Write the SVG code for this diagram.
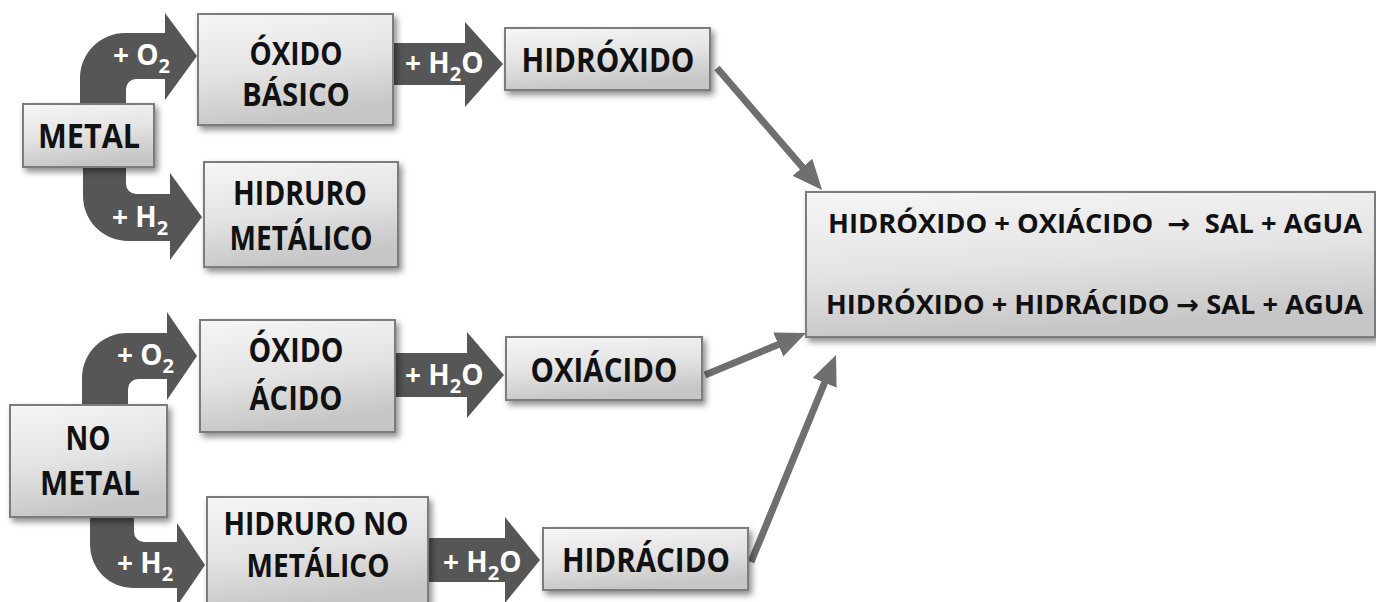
<svg xmlns="http://www.w3.org/2000/svg" width="1376" height="602" viewBox="0 0 1376 602">
<defs>
<linearGradient id="boxg" x1="0" y1="0" x2="0.25" y2="1">
<stop offset="0" stop-color="#f6f6f6"/>
<stop offset="0.55" stop-color="#e3e3e3"/>
<stop offset="1" stop-color="#c6c6c6"/>
</linearGradient>
<filter id="sh" x="-10%" y="-10%" width="130%" height="140%">
<feDropShadow dx="3" dy="4" stdDeviation="3" flood-color="#000" flood-opacity="0.45"/>
</filter>
<marker id="ah" markerUnits="userSpaceOnUse" markerWidth="32" markerHeight="28" refX="10" refY="13" orient="auto">
<path d="M0,0 L30,13 L0,26 z" fill="#6f6f6f"/>
</marker>
<style>
.box{fill:url(#boxg);stroke:#7c7c7c;stroke-width:2;filter:url(#sh)}
.t{font-family:"Open Sans","DejaVu Sans",sans-serif;font-weight:700;font-size:34px;fill:#111;text-anchor:middle}
.t2{font-size:32px}
.big{font-family:"Open Sans","DejaVu Sans",sans-serif;font-weight:700;font-size:27px;fill:#111;white-space:pre}
.lab{font-family:"Open Sans","DejaVu Sans",sans-serif;font-weight:700;font-size:28px;fill:#fff}
.sub{font-size:20px}
.fat{fill:#565656}
.con{stroke:#6f6f6f;stroke-width:7;fill:none;marker-end:url(#ah)}
</style>
</defs>
<rect width="1376" height="602" fill="#fff"/>

<g id="reaction-arrows">
<g id="metal-o2">
<path class="fat" d="M80,115 L80,78 A45,45 0 0 1 125,33 L165,33 L165,13 L197,56 L165,100 L165,79 L136,79 A10,10 0 0 0 126,89 L126,115 Z"/>
<text class="lab" x="113" y="65">+ O<tspan class="sub" dy="8">2</tspan></text>
</g>
<g id="metal-h2">
<path class="fat" d="M83,160 L83,196 A45,45 0 0 0 128,241 L170,241 L170,260 L202,217 L170,173 L170,194 L136,194 A10,10 0 0 1 126,184 L126,160 Z"/>
<text class="lab" x="112" y="227">+ H<tspan class="sub" dy="8">2</tspan></text>
</g>
<g id="nometal-o2">
<path class="fat" d="M82,412 L82,378 A45,45 0 0 1 127,333 L167,333 L167,312 L197,356 L167,400 L167,379 L138,379 A10,10 0 0 0 128,389 L128,412 Z"/>
<text class="lab" x="117" y="365">+ O<tspan class="sub" dy="8">2</tspan></text>
</g>
<g id="nometal-h2">
<path class="fat" d="M90,510 L90,545 A43,43 0 0 0 133,588 L177,588 L177,606 L205,565 L177,523 L177,542 L144,542 A10,10 0 0 1 134,532 L134,510 Z"/>
<text class="lab" x="117" y="573">+ H<tspan class="sub" dy="8">2</tspan></text>
</g>
<g id="h2o-1">
<path class="fat" d="M390,43 L465,43 L465,22 L503,64 L465,107 L465,85 L390,85 Z"/>
<text class="lab" x="405" y="73">+ H<tspan class="sub" dy="8">2</tspan><tspan dy="-8">O</tspan></text>
</g>
<g id="h2o-2">
<path class="fat" d="M392,353 L467,353 L467,332 L504,375 L467,418 L467,397 L392,397 Z"/>
<text class="lab" x="405" y="385">+ H<tspan class="sub" dy="8">2</tspan><tspan dy="-8">O</tspan></text>
</g>
<g id="h2o-3">
<path class="fat" d="M426,538 L505,538 L505,517 L540,560 L505,603 L505,582 L426,582 Z"/>
<text class="lab" x="443" y="572">+ H<tspan class="sub" dy="8">2</tspan><tspan dy="-8">O</tspan></text>
</g>
</g>

<g id="connectors">
<line class="con" x1="717" y1="68" x2="809" y2="174.8"/>
<line class="con" x1="705" y1="375" x2="787.5" y2="340.7"/>
<line class="con" x1="751" y1="562" x2="828.4" y2="373.5"/>
</g>

<g id="metal">
<rect class="box" x="23" y="104" width="131" height="63"/>
<text class="t" x="89" y="148" textLength="102" lengthAdjust="spacingAndGlyphs">METAL</text>
</g>
<g id="oxido-basico">
<rect class="box" x="198" y="14" width="195" height="111"/>
<text class="t t2" x="296" y="65" textLength="93" lengthAdjust="spacingAndGlyphs">ÓXIDO</text>
<text class="t t2" x="296" y="106" textLength="108" lengthAdjust="spacingAndGlyphs">BÁSICO</text>
</g>
<g id="hidruro-metalico">
<rect class="box" x="204" y="162" width="194" height="105"/>
<text class="t" x="300" y="205" textLength="134" lengthAdjust="spacingAndGlyphs">HIDRURO</text>
<text class="t" x="301" y="250" textLength="143" lengthAdjust="spacingAndGlyphs">METÁLICO</text>
</g>
<g id="hidroxido">
<rect class="box" x="505" y="28" width="205" height="62"/>
<text class="t" x="608" y="72" textLength="173" lengthAdjust="spacingAndGlyphs">HIDRÓXIDO</text>
</g>
<g id="no-metal">
<rect class="box" x="10" y="405" width="157" height="112"/>
<text class="t" x="88" y="450" textLength="45" lengthAdjust="spacingAndGlyphs">NO</text>
<text class="t" x="90" y="495" textLength="100" lengthAdjust="spacingAndGlyphs">METAL</text>
</g>
<g id="oxido-acido">
<rect class="box" x="200" y="320" width="195" height="112"/>
<text class="t" x="296" y="362" textLength="95" lengthAdjust="spacingAndGlyphs">ÓXIDO</text>
<text class="t" x="296" y="410" textLength="93" lengthAdjust="spacingAndGlyphs">ÁCIDO</text>
</g>
<g id="oxiacido">
<rect class="box" x="506" y="337" width="196" height="63"/>
<text class="t" x="604" y="382" textLength="147" lengthAdjust="spacingAndGlyphs">OXIÁCIDO</text>
</g>
<g id="hidruro-no-metalico">
<rect class="box" x="207" y="497" width="221" height="112"/>
<text class="t t2" x="316" y="535" textLength="185" lengthAdjust="spacingAndGlyphs">HIDRURO NO</text>
<text class="t t2" x="318" y="577" textLength="143" lengthAdjust="spacingAndGlyphs">METÁLICO</text>
</g>
<g id="hidracido">
<rect class="box" x="543" y="528" width="205" height="62"/>
<text class="t" x="646" y="572" textLength="168" lengthAdjust="spacingAndGlyphs">HIDRÁCIDO</text>
</g>
<g id="sal-agua">
<rect class="box" x="806" y="192" width="569" height="145"/>
<text class="big" x="828" y="233" textLength="534" lengthAdjust="spacingAndGlyphs">HIDRÓXIDO + OXIÁCIDO  →  SAL + AGUA</text>
<text class="big" x="826" y="314" textLength="537" lengthAdjust="spacingAndGlyphs">HIDRÓXIDO + HIDRÁCIDO → SAL + AGUA</text>
</g>
</svg>
